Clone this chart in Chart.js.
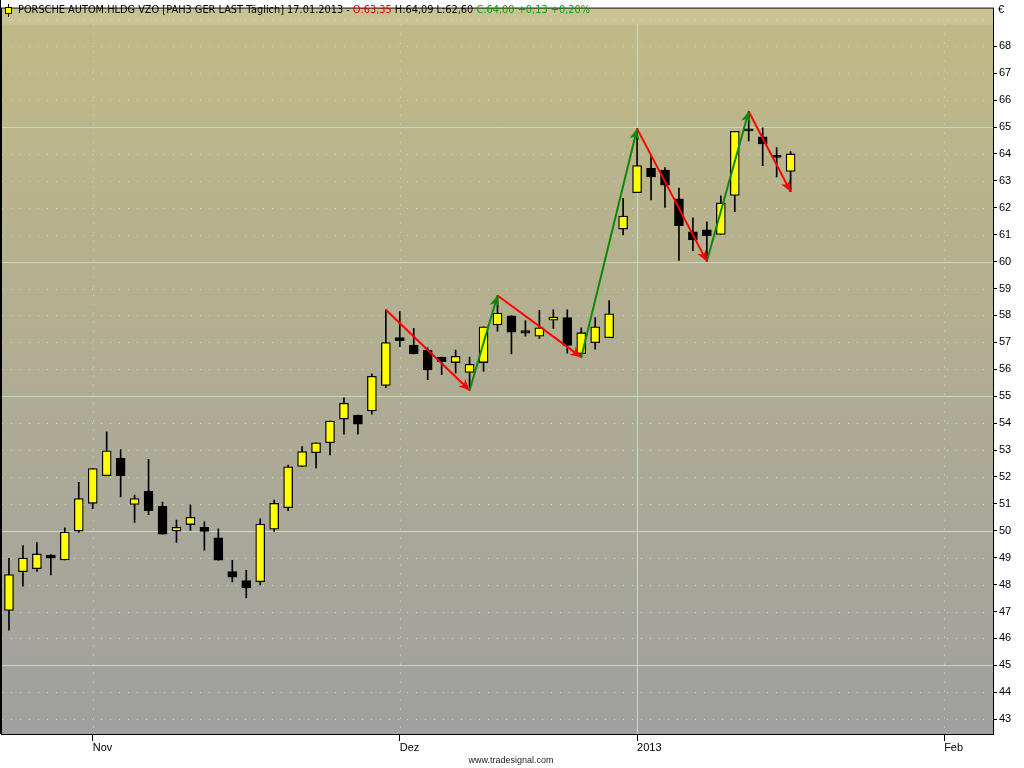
<!DOCTYPE html>
<html>
<head>
<meta charset="utf-8">
<title>PAH3 Täglich</title>
<script src="https://cdn.jsdelivr.net/npm/chart.js@4.4.1/dist/chart.umd.min.js"></script>
<style>
  html, body { margin: 0; padding: 0; background: #fff; }
  canvas { display: block; }
</style>
</head>
<body>
<canvas id="chart" width="1024" height="768"></canvas>
<script>
'use strict';

// ******* DATA *******

// trading days (last 14 are empty future slots)
const days = [
  '24.10.12', '25.10.12', '26.10.12', '29.10.12', '30.10.12', '31.10.12',
  '01.11.12', '02.11.12', '05.11.12', '06.11.12', '07.11.12', '08.11.12', '09.11.12',
  '12.11.12', '13.11.12', '14.11.12', '15.11.12', '16.11.12', '19.11.12', '20.11.12',
  '21.11.12', '22.11.12', '23.11.12', '26.11.12', '27.11.12', '28.11.12', '29.11.12', '30.11.12',
  '03.12.12', '04.12.12', '05.12.12', '06.12.12', '07.12.12', '10.12.12', '11.12.12',
  '12.12.12', '13.12.12', '14.12.12', '17.12.12', '18.12.12', '19.12.12', '20.12.12',
  '21.12.12', '27.12.12', '28.12.12',
  '02.01.13', '03.01.13', '04.01.13', '07.01.13', '08.01.13', '09.01.13', '10.01.13',
  '11.01.13', '14.01.13', '15.01.13', '16.01.13', '17.01.13',
  '18.01.13', '21.01.13', '22.01.13', '23.01.13', '24.01.13', '25.01.13', '28.01.13',
  '29.01.13', '30.01.13', '31.01.13', '01.02.13', '04.02.13', '05.02.13', '06.02.13'
];

const openVals = [
  47.04, 48.48, 48.59, 49.10, 48.92, 49.99, 51.02, 52.05, 52.69, 50.98,
  51.47, 50.91, 49.99, 50.23, 50.13, 49.74, 48.48, 48.15, 48.11, 50.06,
  50.86, 52.39, 52.90, 53.27, 54.15, 54.30, 54.45, 55.40, 57.18, 56.89,
  56.71, 56.45, 56.25, 55.88, 56.25, 57.65, 57.99, 57.44, 57.23, 57.82,
  57.92, 56.58, 56.99, 57.17, 61.21, 62.56, 63.47, 63.40, 62.33, 61.11,
  61.18, 61.01, 62.46, 64.88, 64.64, 63.88, 63.35
];
const highVals = [
  48.98, 49.45, 49.56, 49.12, 50.11, 51.80, 52.31, 53.68, 53.02, 51.33,
  52.65, 51.07, 50.40, 50.96, 50.33, 50.07, 48.90, 48.53, 50.44, 51.14,
  52.44, 53.13, 53.27, 54.08, 54.94, 54.30, 55.83, 58.21, 58.14, 57.52,
  56.80, 56.45, 56.71, 56.45, 57.58, 58.74, 57.99, 57.81, 58.19, 58.21,
  58.21, 57.54, 57.92, 58.55, 62.35, 64.94, 63.95, 63.49, 62.73, 61.63,
  61.48, 62.44, 64.84, 65.58, 64.97, 64.24, 64.09
];
const lowVals = [
  46.31, 47.94, 48.49, 48.36, 48.92, 49.94, 50.82, 52.05, 51.26, 50.31,
  50.60, 49.87, 49.57, 50.01, 49.28, 48.91, 48.10, 47.51, 47.99, 49.98,
  50.75, 52.39, 52.34, 52.82, 53.59, 53.59, 54.33, 55.32, 56.84, 56.57,
  55.61, 55.80, 55.86, 55.22, 55.92, 57.42, 56.57, 57.23, 57.15, 57.52,
  56.60, 56.45, 56.75, 57.17, 60.99, 62.56, 62.29, 62.01, 60.04, 60.41,
  60.01, 61.01, 61.86, 64.48, 63.56, 63.15, 62.60
];
const closeVals = [
  48.37, 48.99, 49.14, 48.98, 49.95, 51.20, 52.31, 52.97, 52.04, 51.20,
  50.75, 49.87, 50.13, 50.50, 49.98, 48.91, 48.28, 47.88, 50.25, 51.02,
  52.38, 52.94, 53.27, 54.08, 54.74, 53.96, 55.74, 56.99, 57.06, 56.57,
  55.98, 56.28, 56.48, 56.19, 57.58, 58.09, 57.38, 57.34, 57.54, 57.94,
  56.89, 57.36, 57.58, 58.06, 61.69, 63.57, 63.15, 62.84, 61.34, 60.81,
  60.96, 62.18, 64.84, 64.86, 64.37, 63.87, 64.00
];

// zigzag turning points (index into days, price)
const zigIndex = [27, 33, 35, 41, 45, 50, 53, 56];
const zigValues = [58.21, 55.22, 58.74, 56.45, 64.94, 60.01, 65.58, 62.60];

// x axis month labels
const tickIndex = [6, 28, 45, 67];
const tickText = ['Nov', 'Dez', '2013', 'Feb'];
const solidTick = '2013';

// y axis range
const yMin = 42.45;
const yMax = 69.4;
const yTickMin = 43;
const yTickMax = 68;


// ******* STYLE *******

const upColor = '#ffff00';
const downColor = '#000000';
const zigUp = '#0a8a0a';
const zigDown = '#ff0000';
const gridColor = '#c8dac4';
const font = '"Liberation Sans", Arial, sans-serif';
const headFont = '"DejaVu Sans", Tahoma, sans-serif';


// ******* HELPERS *******

function fmt(v) {
  return v.toFixed(2).replace('.', ',');
}

// which zigzag leg a data index belongs to
function zigLegUp(dataIndex) {
  for (let k = 1; k < zigIndex.length; k++) {
    if (dataIndex <= zigIndex[k]) {
      return zigValues[k] > zigValues[k - 1];
    }
  }
  return false;
}

let wickData = [];
let bodyData = [];
let bodyColors = [];
for (let i = 0; i < openVals.length; i++) {
  wickData.push([lowVals[i], highVals[i]]);
  bodyData.push([openVals[i], closeVals[i]]);
  bodyColors.push(closeVals[i] >= openVals[i] ? upColor : downColor);
}

let zigData = days.map(() => null);
for (let i = 0; i < zigIndex.length; i++) {
  zigData[zigIndex[i]] = zigValues[i];
}


// ******* PLUGINS *******

const backdrop = {
  id: 'backdrop',
  beforeDraw(chart) {
    const { ctx, chartArea: a } = chart;
    const g = ctx.createLinearGradient(0, a.top, 0, a.bottom);
    g.addColorStop(0, '#c1ba86');
    g.addColorStop(1, '#a0a0a0');
    ctx.save();
    ctx.fillStyle = g;
    ctx.fillRect(a.left, a.top, a.right - a.left, a.bottom - a.top);
    ctx.restore();
  },
  beforeDatasetsDraw(chart) {
    const { ctx, chartArea: a } = chart;
    const x = chart.scales.x;
    const y = chart.scales.y;
    ctx.save();
    ctx.beginPath();
    ctx.rect(a.left, a.top, a.right - a.left, a.bottom - a.top);
    ctx.clip();
    ctx.lineWidth = 1;
    ctx.strokeStyle = gridColor;
    for (let v = yTickMin; v <= yTickMax + 1; v++) {
      const py = Math.round(y.getPixelForValue(v)) + 0.5;
      ctx.setLineDash(v % 5 === 0 ? [] : [1, 8]);
      ctx.beginPath();
      ctx.moveTo(a.left, py);
      ctx.lineTo(a.right, py);
      ctx.stroke();
    }
    for (let i = 0; i < tickIndex.length; i++) {
      const px = Math.round(x.getPixelForValue(tickIndex[i])) + 0.5;
      ctx.setLineDash(tickText[i] === solidTick ? [] : [1, 8]);
      ctx.beginPath();
      ctx.moveTo(px, a.top + 16);
      ctx.lineTo(px, a.bottom);
      ctx.stroke();
    }
    // slightly lighter header band
    ctx.setLineDash([]);
    ctx.fillStyle = 'rgba(255, 255, 235, 0.14)';
    ctx.fillRect(a.left, a.top, a.right - a.left, 16);
    ctx.restore();
  },
  afterDatasetsDraw(chart) {
    const { ctx } = chart;
    const meta = chart.getDatasetMeta(2);
    ctx.save();
    for (let i = 1; i < zigIndex.length; i++) {
      const p0 = meta.data[zigIndex[i - 1]];
      const p1 = meta.data[zigIndex[i]];
      const ang = Math.atan2(p1.y - p0.y, p1.x - p0.x);
      const len = 11;
      const w = 5;
      ctx.fillStyle = zigValues[i] > zigValues[i - 1] ? zigUp : zigDown;
      ctx.translate(p1.x, p1.y);
      ctx.rotate(ang);
      ctx.beginPath();
      ctx.moveTo(0, 0);
      ctx.lineTo(-len, -w);
      ctx.lineTo(-len * 0.7, 0);
      ctx.lineTo(-len, w);
      ctx.closePath();
      ctx.fill();
      ctx.setTransform(1, 0, 0, 1, 0, 0);
    }
    ctx.restore();
  },
  afterDraw(chart) {
    const { ctx, chartArea: a } = chart;
    ctx.save();
    // frame
    ctx.strokeStyle = '#000';
    ctx.lineWidth = 1;
    ctx.strokeRect(a.left - 0.5, a.top - 0.5, a.right - a.left + 1, a.bottom - a.top + 1);
    ctx.beginPath();
    ctx.moveTo(0.5, 0);
    ctx.lineTo(0.5, a.bottom);
    ctx.stroke();

    // header icon
    ctx.beginPath();
    ctx.moveTo(8.5, 4);
    ctx.lineTo(8.5, 17);
    ctx.stroke();
    ctx.fillStyle = upColor;
    ctx.fillRect(5.5, 7.5, 6, 6);
    ctx.strokeRect(5.5, 7.5, 6, 6);

    // header text
    const last = closeVals.length - 1;
    const chg = closeVals[last] - closeVals[last - 1];
    const pct = chg / closeVals[last - 1] * 100;
    const pieces = [
      ['PORSCHE AUTOM.HLDG VZO [PAH3 GER LAST Täglich] ' + days[last].slice(0, 6) + '20' + days[last].slice(6) + ' - ', '#000'],
      ['O:' + fmt(openVals[last]), '#e00000'],
      [' H:' + fmt(highVals[last]) + ' L:' + fmt(lowVals[last]) + ' ', '#000'],
      ['C:' + fmt(closeVals[last]) + ' +' + fmt(chg) + ' +' + fmt(pct) + '%', '#00a800']
    ];
    ctx.font = '11px ' + headFont;
    ctx.textBaseline = 'middle';
    let total = 0;
    for (const p of pieces) total += ctx.measureText(p[0]).width;
    const sx = 572 / total;
    ctx.translate(18, 10.5);
    ctx.scale(sx, 1);
    let tx = 0;
    for (const p of pieces) {
      ctx.fillStyle = p[1];
      ctx.fillText(p[0], tx, 0);
      tx += ctx.measureText(p[0]).width;
    }
    ctx.setTransform(1, 0, 0, 1, 0, 0);

    // currency
    ctx.font = '11px ' + font;
    ctx.fillStyle = '#000';
    ctx.textAlign = 'left';
    ctx.fillText('€', a.right + 5, 10);

    // watermark
    ctx.font = '9px ' + font;
    ctx.textAlign = 'center';
    ctx.fillStyle = '#222';
    ctx.fillText('www.tradesignal.com', 511, 761);
    ctx.restore();
  }
};


// ******* CHART *******

const ctx = document.getElementById('chart').getContext('2d');
const priceChart = new Chart(ctx, {
  type: 'bar',
  data: {
    labels: days,
    datasets: [
      {
        label: 'Wick',
        data: wickData,
        backgroundColor: '#000',
        barThickness: 1,
        grouped: false,
        order: 3
      },
      {
        label: 'Body',
        data: bodyData,
        backgroundColor: bodyColors,
        borderColor: '#000',
        borderWidth: 1.3,
        borderSkipped: false,
        barThickness: 9,
        minBarLength: 2,
        grouped: false,
        order: 2
      },
      {
        type: 'line',
        label: 'ZigZag',
        data: zigData,
        spanGaps: true,
        borderWidth: 2,
        pointRadius: 0,
        tension: 0,
        segment: {
          borderColor: c => (zigLegUp(c.p1DataIndex) ? zigUp : zigDown)
        },
        order: 1
      }
    ]
  },
  options: {
    responsive: false,
    devicePixelRatio: 1,
    animation: false,
    layout: { padding: { left: 2, top: 2, right: 0, bottom: 0 } },
    plugins: {
      legend: { display: false },
      tooltip: { enabled: false }
    },
    scales: {
      x: {
        type: 'category',
        offset: true,
        afterBuildTicks: axis => {
          axis.ticks = tickIndex.map(v => ({ value: v }));
        },
        afterFit: axis => { axis.height = 34; },
        grid: {
          offset: false,
          drawOnChartArea: false,
          drawTicks: true,
          tickLength: 7,
          tickColor: '#000'
        },
        border: { display: false },
        ticks: {
          autoSkip: false,
          maxRotation: 0,
          align: 'start',
          padding: 0,
          color: '#000',
          font: { family: font, size: 11 },
          callback: value => tickText[tickIndex.indexOf(value)]
        }
      },
      y: {
        type: 'linear',
        position: 'right',
        min: yMin,
        max: yMax,
        afterBuildTicks: axis => {
          axis.ticks = axis.ticks.filter(t => Number.isInteger(t.value) && t.value >= yTickMin && t.value <= yTickMax);
        },
        afterFit: axis => { axis.width = 31; },
        grid: {
          drawOnChartArea: false,
          drawTicks: true,
          tickLength: 4,
          tickColor: '#000'
        },
        border: { display: false },
        ticks: {
          stepSize: 1,
          padding: 2,
          color: '#000',
          font: { family: font, size: 11 }
        }
      }
    }
  },
  plugins: [backdrop]
});
</script>
</body>
</html>
